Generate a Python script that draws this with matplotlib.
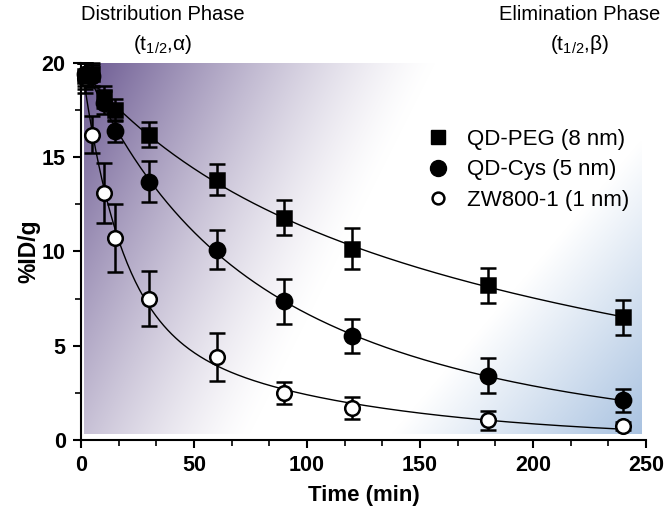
import numpy as np
import matplotlib
matplotlib.use("Agg")
import matplotlib.pyplot as plt
from matplotlib.lines import Line2D
from matplotlib.ticker import MultipleLocator

plt.rcParams['font.family'] = ['Liberation Sans', 'DejaVu Sans']
plt.rcParams['mathtext.fontset'] = 'custom'
plt.rcParams['mathtext.rm'] = 'Liberation Sans'
plt.rcParams['mathtext.it'] = 'Liberation Sans'

# data
time_min = np.array([2, 5, 10, 15, 30, 60, 90, 120, 180, 240])
peg_mean = np.array([19.3, 19.4, 18.2, 17.5, 16.2, 13.8, 11.8, 10.15, 8.2, 6.5])
peg_err = np.array([0.7, 0.6, 0.6, 0.6, 0.65, 0.82, 0.95, 1.1, 0.93, 0.93])
cys_mean = np.array([19.4, 19.3, 17.9, 16.4, 13.7, 10.1, 7.35, 5.5, 3.4, 2.1])
cys_err = np.array([0.6, 0.6, 0.6, 0.6, 1.1, 1.05, 1.2, 0.9, 0.93, 0.6])
zw_mean = np.array([19.2, 16.2, 13.1, 10.7, 7.5, 4.4, 2.5, 1.7, 1.05, 0.75])
zw_err = np.array([0.8, 1.0, 1.6, 1.8, 1.45, 1.25, 0.6, 0.6, 0.5, 0.2])

labels = ['QD-PEG (8 nm)', 'QD-Cys (5 nm)', 'ZW800-1 (1 nm)']


def biexp_fit(t, y):
    """two-phase decay fit: grid search on rates, amplitudes by weighted least squares"""
    ks = np.logspace(-3.5, 0.3, 160)
    w = 1.0 / np.sqrt(y)
    best = None
    for k1 in ks:
        e1 = np.exp(-k1 * t)
        for k2 in ks[ks <= k1]:
            e2 = np.exp(-k2 * t)
            A = np.column_stack([e1, e2])
            coef, *_ = np.linalg.lstsq(A * w[:, None], y * w, rcond=None)
            if np.any(coef < 0):
                continue
            sse = np.sum(((A @ coef - y) * w) ** 2)
            if best is None or sse < best[0]:
                best = (sse, k1, k2, coef)
    _, k1, k2, c = best
    return lambda tt: c[0] * np.exp(-k1 * tt) + c[1] * np.exp(-k2 * tt)


fig = plt.figure(figsize=(6.69, 5.12), dpi=100)
ax = fig.add_axes([0.121, 0.1406, 0.8446, 0.7364])

# background: purple corner top-left, white middle, blue corner bottom-right
W, H = 557, 371
px = np.arange(W)[None, :].astype(float)
py = np.arange(H)[:, None].astype(float)
wp = np.clip(1 - (px + 0.5 * py) / 350.0, 0, 1) ** 1.3
wb = np.clip(1 - ((W - px) + 0.85 * (H - py)) / 250.0, 0, 1)
purple = np.array([0.42, 0.35, 0.57])
blue = np.array([0.66, 0.76, 0.88])
img = np.ones((H, W, 3))
img -= wp[..., None] * (1 - purple)
img -= wb[..., None] * (1 - blue)
ax.imshow(np.clip(img, 0, 1), aspect='auto', extent=[1.3, 247.8, 0.32, 20.0],
          origin='upper', zorder=0, interpolation='bilinear')

tt = np.linspace(2, 240, 400)
series = [
    (zw_mean, zw_err, 'o', 'white', 10.5),
    (cys_mean, cys_err, 'o', 'black', 11),
    (peg_mean, peg_err, 's', 'black', 9.5),
]
for mean, err, mk, fc, ms in series:
    f = biexp_fit(time_min, mean)
    ax.plot(tt, f(tt), color='black', lw=1.0, zorder=2)
for mean, err, mk, fc, ms in series:
    ax.errorbar(time_min, mean, yerr=err, fmt=mk, ms=ms, mfc=fc, mec='black',
                mew=1.8, ecolor='black', elinewidth=1.8, capsize=6,
                capthick=1.8, zorder=3, clip_on=False)

ax.set_xlim(0, 250)
ax.set_ylim(0, 20)
ax.xaxis.set_major_locator(MultipleLocator(50))
ax.xaxis.set_minor_locator(MultipleLocator(50 / 3))
ax.yaxis.set_major_locator(MultipleLocator(5))
ax.yaxis.set_minor_locator(MultipleLocator(2.5))
for side in ['top', 'right']:
    ax.spines[side].set_visible(False)
for side in ['left', 'bottom']:
    ax.spines[side].set_linewidth(1.5)
ax.tick_params(which='major', length=6, width=1.5, labelsize=15.5, pad=5)
ax.tick_params(which='minor', length=4, width=1.2)
for lab in ax.get_xticklabels() + ax.get_yticklabels():
    lab.set_fontweight('bold')

ax.set_xlabel('Time (min)', fontsize=16, fontweight='bold', labelpad=6)
ax.set_ylabel('%ID/g', fontsize=16.5, fontweight='bold', labelpad=1)

fig.text(163 / 669, 1 - 14 / 512, 'Distribution Phase', ha='center', va='center', fontsize=14.5)
fig.text(163 / 669, 1 - 45 / 512, r'(t$_{1/2}$,α)', ha='center', va='center', fontsize=15)
fig.text(580 / 669, 1 - 14 / 512, 'Elimination Phase', ha='center', va='center', fontsize=14.5)
fig.text(580 / 669, 1 - 45 / 512, r'(t$_{1/2}$,β)', ha='center', va='center', fontsize=15)

handles = [
    Line2D([], [], ls='none', marker='s', ms=9.5, mfc='black', mec='black'),
    Line2D([], [], ls='none', marker='o', ms=11.5, mfc='black', mec='black'),
    Line2D([], [], ls='none', marker='o', ms=8.5, mfc='white', mec='black', mew=1.8),
]
fig.legend(handles, labels, loc='center left', bbox_to_anchor=(427 / 669, 1 - 170 / 512),
           frameon=False, fontsize=16, handlelength=1.0, handletextpad=0.8,
           labelspacing=0.42, borderpad=0, borderaxespad=0)

fig.savefig('out.png', dpi=100)
